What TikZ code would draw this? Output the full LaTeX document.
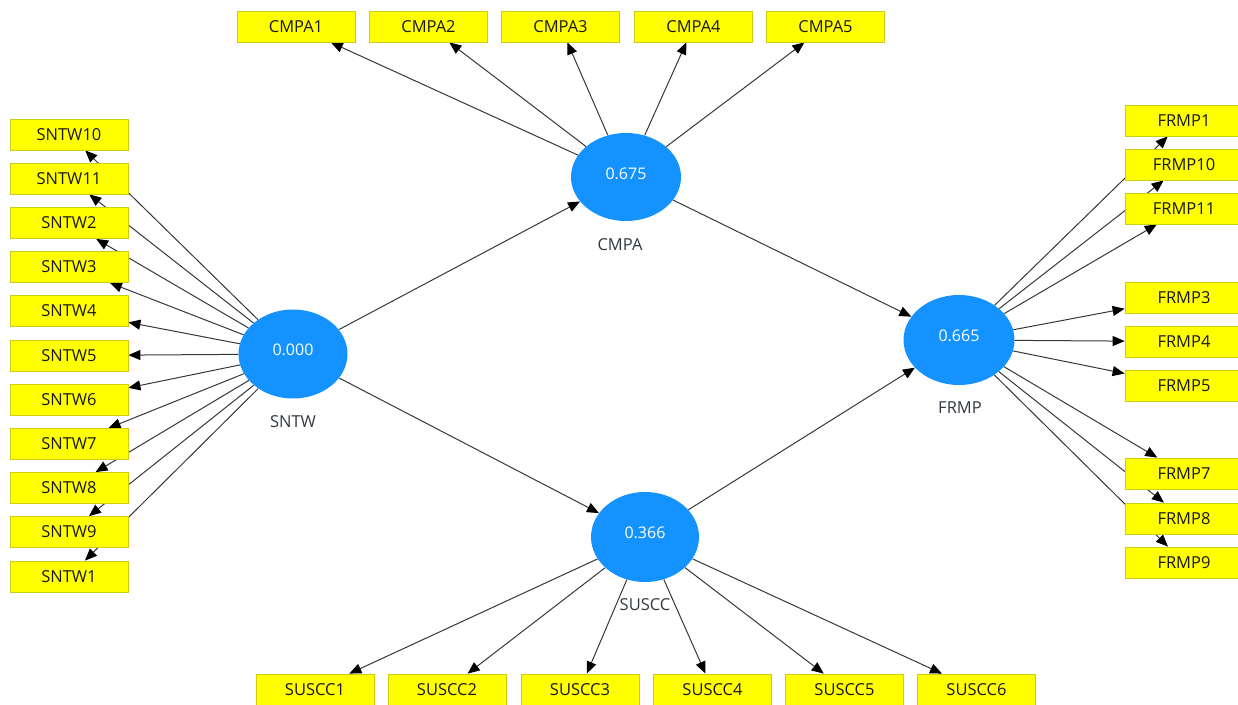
\documentclass[tikz,border=0pt]{standalone}
\usepackage{fontspec}
\setmainfont{Open Sans}
\usetikzlibrary{arrows.meta,backgrounds,shapes.geometric}
\definecolor{boxyellow}{RGB}{255,255,0}
\definecolor{boxborder}{RGB}{205,205,20}
\definecolor{lvblue}{RGB}{20,146,255}
\definecolor{linegray}{RGB}{55,55,55}
\definecolor{labelgray}{RGB}{50,55,65}
\begin{document}
\begin{tikzpicture}[x=1pt,y=-1pt,
  ind/.style={draw=boxborder, line width=0.8pt, fill=boxyellow, minimum width=118pt, minimum height=31pt, inner sep=0pt, font=\fontsize{16.5}{19}\selectfont, text=black!90},
  lv/.style={ellipse, fill=lvblue, inner sep=0pt},
  lvvalue/.style={text=white, font=\fontsize{16}{19}\selectfont, inner sep=0pt},
  lvlabel/.style={font=\fontsize{16.5}{19}\selectfont, text=labelgray},
  link/.style={draw=linegray, line width=1pt, -{Triangle[length=12pt,width=10pt,color=black]}}
]
\useasboundingbox (0,0) rectangle (1238,704);

% latent variables
\node[lv, minimum width=109pt, minimum height=89pt] (SNTW) at (293,354) {};
\node[lv, minimum width=110pt, minimum height=88pt] (CMPA) at (626,177) {};
\node[lv, minimum width=111pt, minimum height=90pt] (FRMP) at (959,340) {};
\node[lv, minimum width=108pt, minimum height=90pt] (SUSCC) at (645,537) {};

\node[lvvalue] (SNTWv) at (293,349.5) {0.000};
\node[lvvalue] (CMPAv) at (626,173.5) {0.675};
\node[lvvalue] (FRMPv) at (959,335.5) {0.665};
\node[lvvalue] (SUSCCv) at (645,532.5) {0.366};

\node[lvlabel] (SNTWl) at (293,422) {SNTW};
\node[lvlabel] (CMPAl) at (620,245) {CMPA};
\node[lvlabel] (FRMPl) at (960,408) {FRMP};
\node[lvlabel] (SUSCCl) at (645,605) {SUSCC};

% SNTW indicators
\foreach \n/\y in {SNTW10/134.5, SNTW11/178.5, SNTW2/223, SNTW3/267, SNTW4/311, SNTW5/355.5, SNTW6/400, SNTW7/444, SNTW8/488, SNTW9/532, SNTW1/576.5}
  \node[ind] (\n) at (69,\y) {\n};

% CMPA indicators
\foreach \n/\x in {CMPA1/296, CMPA2/428.5, CMPA3/560.5, CMPA4/693.5, CMPA5/825.5}
  \node[ind] (\n) at (\x,26.5) {\n};

% FRMP indicators
\foreach \n/\y in {FRMP1/120.5, FRMP10/164.5, FRMP11/208.5, FRMP3/297.5, FRMP4/341.5, FRMP5/385.5, FRMP7/473.5, FRMP8/518.5, FRMP9/562.5}
  \node[ind] (\n) at (1184,\y) {\n};

% SUSCC indicators
\foreach \n/\x in {SUSCC1/315, SUSCC2/447, SUSCC3/580, SUSCC4/712.5, SUSCC5/844.5, SUSCC6/976.5}
  \node[ind] (\n) at (\x,689.5) {\n};

\begin{pgfonlayer}{background}
  \foreach \n in {SNTW10,SNTW11,SNTW2,SNTW3,SNTW4,SNTW5,SNTW6,SNTW7,SNTW8,SNTW9,SNTW1}
    \draw[link] (SNTW) -- (\n);
  \foreach \n in {CMPA1,CMPA2,CMPA3,CMPA4,CMPA5}
    \draw[link] (CMPA) -- (\n);
  \foreach \n in {FRMP1,FRMP10,FRMP11,FRMP3,FRMP4,FRMP5,FRMP7,FRMP8,FRMP9}
    \draw[link] (FRMP) -- (\n);
  \foreach \n in {SUSCC1,SUSCC2,SUSCC3,SUSCC4,SUSCC5,SUSCC6}
    \draw[link] (SUSCC) -- (\n);
  \draw[link] (SNTW) -- (CMPA);
  \draw[link] (SNTW) -- (SUSCC);
  \draw[link] (CMPA) -- (FRMP);
  \draw[link] (SUSCC) -- (FRMP);
\end{pgfonlayer}
\end{tikzpicture}
\end{document}
